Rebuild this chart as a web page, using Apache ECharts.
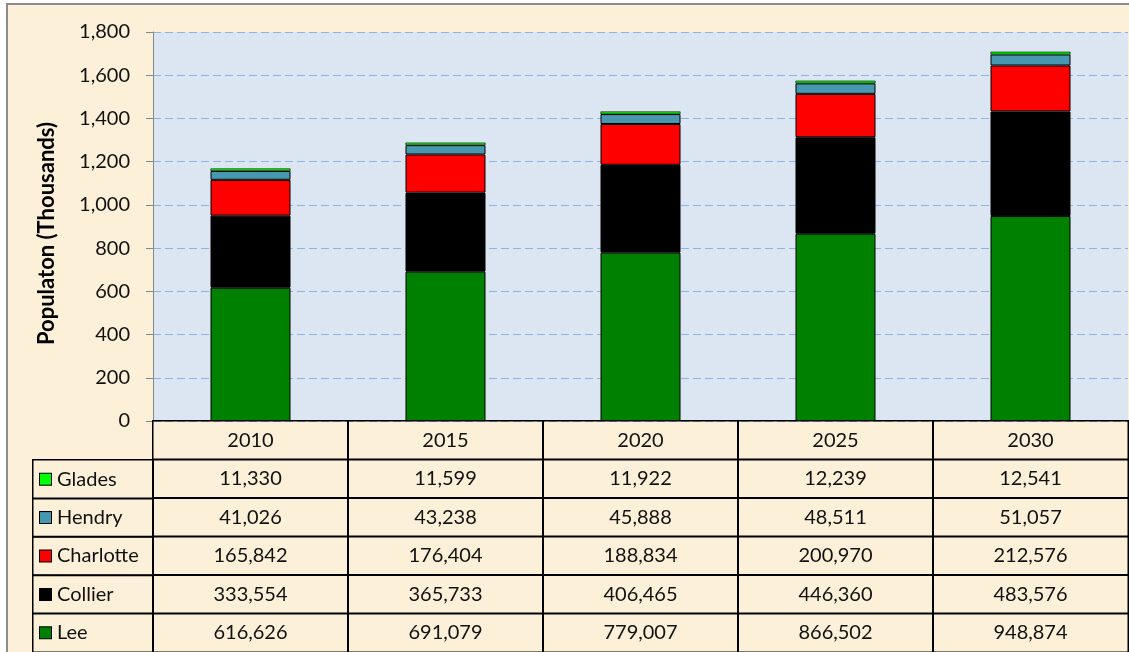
<!DOCTYPE html>
<html>
<head>
<meta charset="utf-8">
<script src="https://cdn.jsdelivr.net/npm/echarts@6/dist/echarts.min.js"></script>
<style>
  html, body { margin: 0; padding: 0; background: #fff; }
  #chart { width: 1129px; height: 652px; }
</style>
</head>
<body>
<div id="chart"></div>
<script>
// data, people per county
var years = ['2010', '2015', '2020', '2025', '2030'];
var counties = ['Lee', 'Collier', 'Charlotte', 'Hendry', 'Glades'];
var colors = ['#008000', '#000000', '#ff0000', '#4797b1', '#00ff00'];
var lee = [616626, 691079, 779007, 866502, 948874];
var collier = [333554, 365733, 406465, 446360, 483576];
var charlotte = [165842, 176404, 188834, 200970, 212576];
var hendry = [41026, 43238, 45888, 48511, 51057];
var glades = [11330, 11599, 11922, 12239, 12541];
var yTicks = [0, 200, 400, 600, 800, 1000, 1200, 1400, 1600, 1800];

var values = [lee, collier, charlotte, hendry, glades];
var font = 'Lato, "Noto Sans", sans-serif';

function fmt(n) {
    return String(n).replace(/\B(?=(\d{3})+(?!\d))/g, ',');
}

var myChart = echarts.init(document.getElementById('chart'));

// stacked bars, in thousands
var barSeries = counties.map(function (name, i) {
    return {
        name: name,
        type: 'bar',
        stack: 'pop',
        barWidth: 80,
        xAxisIndex: 0,
        yAxisIndex: 0,
        // thin slice on top needs a thinner edge so the fill still shows
        itemStyle: { color: colors[i], borderColor: '#000', borderWidth: i === 4 ? 0.6 : 1 },
        data: values[i].map(function (v) { return v / 1000; })
    };
});

// table cells: rows 0..4 counties (bottom up), row 5 = year header
var tableRows = counties.concat(['header']);
var tableData = [];
for (var r = 0; r < counties.length; r++) {
    for (var c = 0; c < years.length; c++) {
        tableData.push([c, r, values[r][c]]);
    }
}
for (var c2 = 0; c2 < years.length; c2++) {
    tableData.push([c2, counties.length, Number(years[c2])]);
}

var legendData = counties.map(function (n, i) { return [0, i, i]; });

var rich = {};
counties.forEach(function (n, i) {
    rich['sq' + i] = { width: 11, height: 11, backgroundColor: colors[i], borderColor: '#000', borderWidth: 1 };
});
rich.t = { fontFamily: font, fontSize: 20, color: '#111', padding: [0, 0, 0, 6] };

option = {
    backgroundColor: '#fff',
    animation: false,
    graphic: [{
        type: 'rect',
        z: -10,
        shape: { x: 7, y: 4, width: 1130, height: 660 },
        style: { fill: '#fcf0d9', stroke: '#8c8c8c', lineWidth: 2 }
    }],
    grid: [
        { left: 153, right: 1, top: 32, height: 389, show: true, backgroundColor: '#dce6f2', borderWidth: 0 },
        { left: 153, right: 1, top: 421, bottom: -1 },
        { left: 33, width: 120, top: 460, bottom: -1 }
    ],
    xAxis: [
        { type: 'category', gridIndex: 0, data: years, axisLine: { show: false }, axisTick: { show: false }, axisLabel: { show: false } },
        { type: 'category', gridIndex: 1, data: years, show: false },
        { type: 'category', gridIndex: 2, data: ['k'], show: false }
    ],
    yAxis: [
        {
            type: 'value', gridIndex: 0, min: 0, max: 1800, interval: 200,
            name: 'Populaton (Thousands)', nameLocation: 'middle', nameGap: 95,
            nameTextStyle: { fontFamily: font, fontSize: 22, fontWeight: 'bold', color: '#000', padding: [0, 14, 0, 0] },
            axisLine: { show: true, lineStyle: { color: '#868686', width: 1 } },
            axisTick: { show: true, length: 7, lineStyle: { color: '#868686' } },
            axisLabel: {
                margin: 23, fontFamily: font, fontSize: 20, color: '#111',
                formatter: function (v) { return yTicks.indexOf(v) >= 0 ? fmt(v) : ''; }
            },
            splitLine: { show: true, lineStyle: { color: '#8db3e2', type: [8, 4], width: 1 } }
        },
        { type: 'category', gridIndex: 1, data: tableRows, show: false },
        { type: 'category', gridIndex: 2, data: counties, show: false }
    ],
    series: barSeries.concat([
        {
            type: 'heatmap',
            xAxisIndex: 1,
            yAxisIndex: 1,
            data: tableData,
            itemStyle: { color: 'rgba(0,0,0,0)', borderColor: '#000', borderWidth: 1.5 },
            label: {
                show: true,
                fontFamily: font, fontSize: 20, color: '#111',
                formatter: function (p) {
                    return p.value[1] === counties.length ? String(p.value[2]) : fmt(p.value[2]);
                }
            },
            emphasis: { disabled: true }
        },
        {
            type: 'heatmap',
            xAxisIndex: 2,
            yAxisIndex: 2,
            data: legendData,
            itemStyle: { color: 'rgba(0,0,0,0)', borderColor: '#000', borderWidth: 1.5 },
            label: {
                show: true,
                position: 'insideLeft',
                distance: 8,
                rich: rich,
                formatter: function (p) {
                    var i = p.value[2];
                    return '{sq' + i + '|}{t|' + counties[i] + '}';
                }
            },
            emphasis: { disabled: true }
        }
    ])
};
myChart.setOption(option);
</script>
</body>
</html>
